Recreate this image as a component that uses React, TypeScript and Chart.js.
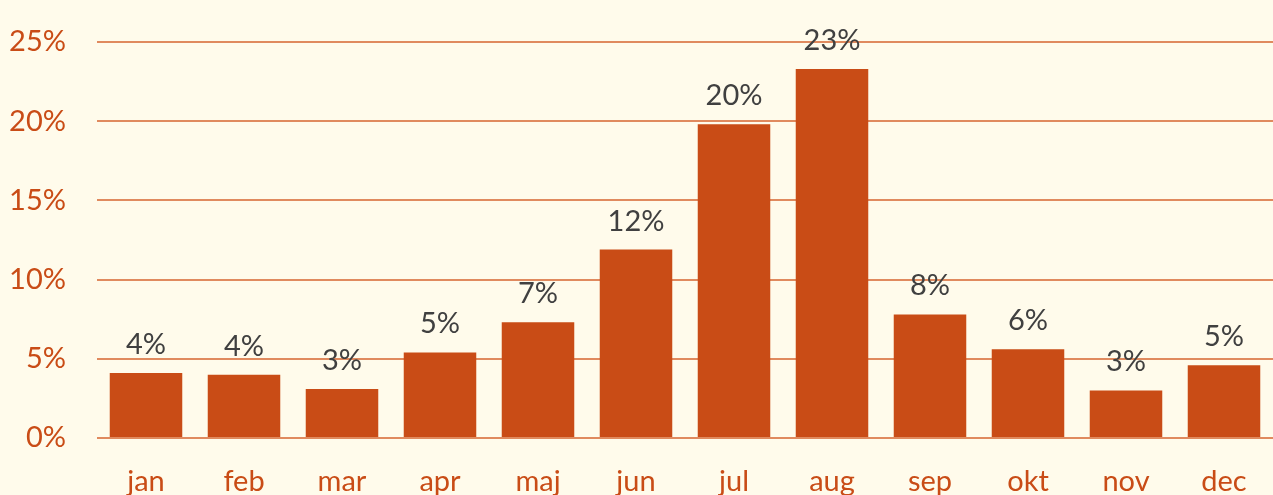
import React, { useEffect, useRef } from "react";
import { Chart, registerables } from "chart.js";

Chart.register(...registerables);

const months = ["jan", "feb", "mar", "apr", "maj", "jun", "jul", "aug", "sep", "okt", "nov", "dec"];
const shares = [4.1, 4.0, 3.1, 5.4, 7.3, 11.9, 19.8, 23.3, 7.8, 5.6, 3.0, 4.6];
const yTicks = [0, 5, 10, 15, 20, 25];

const BG = "#FFFBEB";
const BAR = "#C94C16";
const GRID = "#E08A5E";
const TICK = "#C94C16";
const LABEL = "#404040";
const FONT = "Lato, 'Open Sans', sans-serif";
const FS = 29;

const labelPlugin = {
  id: "barLabels",
  afterDatasetsDraw(chart: any) {
    const ctx = chart.ctx;
    const meta = chart.getDatasetMeta(0);
    ctx.save();
    ctx.fillStyle = LABEL;
    ctx.font = `${FS}px ${FONT}`;
    ctx.textAlign = "center";
    ctx.textBaseline = "alphabetic";
    meta.data.forEach((bar: any, i: number) => {
      ctx.fillText(Math.round(shares[i]) + "%", bar.x, bar.y - 19);
    });
    ctx.restore();
  },
};

const bgPlugin = {
  id: "bg",
  beforeDraw(chart: any) {
    const ctx = chart.ctx;
    ctx.save();
    ctx.fillStyle = BG;
    ctx.fillRect(0, 0, chart.width, chart.height);
    ctx.restore();
  },
};

export default function App() {
  const ref = useRef<HTMLCanvasElement>(null);
  useEffect(() => {
    document.body.style.margin = "0";
    document.body.style.background = BG;
    const chart = new Chart(ref.current!, {
      type: "bar",
      data: {
        labels: months,
        datasets: [
          {
            data: shares,
            backgroundColor: BAR,
            barPercentage: 0.74,
            categoryPercentage: 1,
          },
        ],
      },
      options: {
        animation: false,
        responsive: false,
        layout: { padding: { top: 42, right: 0, left: 0, bottom: 0 } },
        plugins: { legend: { display: false }, tooltip: { enabled: false } },
        scales: {
          x: {
            grid: { display: false, drawTicks: false },
            border: { display: false },
            ticks: { color: TICK, font: { family: FONT, size: FS }, padding: 26 },
            afterFit: (s: any) => {
              s.height = 57;
            },
          },
          y: {
            min: 0,
            max: 25,
            afterBuildTicks: (axis: any) => {
              axis.ticks = yTicks.map((v) => ({ value: v }));
            },
            grid: { color: GRID, lineWidth: 2, drawTicks: false },
            border: { display: false },
            ticks: {
              color: TICK,
              font: { family: FONT, size: FS },
              padding: 31,
              callback: (v: any) => v + "%",
            },
            afterFit: (s: any) => {
              s.width = 97;
              s.paddingTop = 0;
              s.paddingBottom = 0;
            },
          },
        },
      },
      plugins: [bgPlugin, labelPlugin],
    });
    return () => chart.destroy();
  }, []);
  return <canvas ref={ref} width={1273} height={495} style={{ display: "block" }} />;
}
